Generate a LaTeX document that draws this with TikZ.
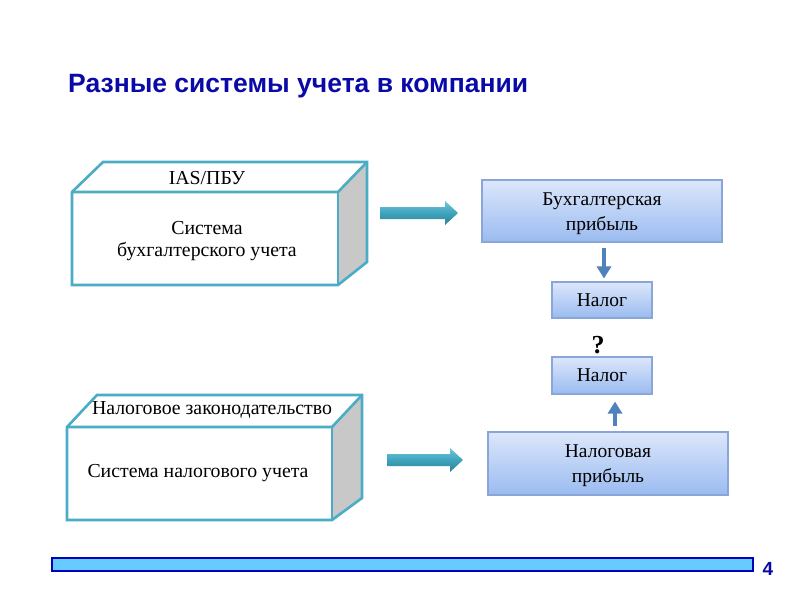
\documentclass[tikz,border=0pt]{standalone}
\usepackage{fontspec}
\setmainfont{Liberation Serif}
\newfontfamily\titlefont{Liberation Sans}
\usetikzlibrary{calc,arrows.meta}
\definecolor{cubeline}{HTML}{4BACC6}
\definecolor{cubeside}{HTML}{C8C8C8}
\definecolor{titleblue}{HTML}{0A0AA8}
\definecolor{boxline}{HTML}{8AA6D8}
\definecolor{boxtop}{HTML}{DCE7FB}
\definecolor{boxbot}{HTML}{9ABBF0}
\definecolor{tealtop}{HTML}{70C6DA}
\definecolor{tealmid}{HTML}{3FA3BC}
\definecolor{tealbot}{HTML}{2C8199}
\definecolor{steel}{HTML}{4F81BD}
\definecolor{barfill}{HTML}{66CCFF}
\definecolor{barline}{HTML}{0000C0}
\tikzset{
  cubeedge/.style={draw=cubeline, line width=2.6pt, line join=miter},
  cubetext/.style={font=\fontsize{19.8}{22.5}\selectfont, align=center, inner sep=0pt, text=black},
  profitbox/.style={rectangle, draw=boxline, line width=1.1pt, top color=boxtop, bottom color=boxbot,
    align=center, font=\fontsize{19.5}{25}\selectfont, inner sep=0pt, text=black},
  smallarrow/.style={draw=steel, line width=4.5pt, -{Triangle[width=14pt,length=12pt]}},
  tealarrow/.style={top color=tealtop, bottom color=tealbot, middle color=tealmid, draw=none}
}
\begin{document}
\begin{tikzpicture}[x=1pt,y=-1pt]
\useasboundingbox (0,0) rectangle (800,600);
\fill[white] (0,0) rectangle (800,600);

% title
\node[anchor=west, font=\titlefont\bfseries\fontsize{26.5}{30}\selectfont, text=titleblue, inner sep=0pt] (title) at (68,86) {Разные системы учета в компании};

% top cuboid
\fill[white] (72,192) -- (103,162) -- (367,162) -- (338,192) -- cycle;
\fill[cubeside] (338,192) -- (367,162) -- (367,262) -- (338,285) -- cycle;
\fill[white] (72,192) rectangle (338,285);
\draw[cubeedge] (72,192) -- (103,162) -- (367,162) -- (367,262) -- (338,285) -- (72,285) -- cycle;
\draw[cubeedge] (72,192) -- (338,192) -- (367,162);
\draw[cubeedge] (338,192) -- (338,285);
\node[cubetext] (ias) at (207,178) {IAS/ПБУ};
\node[cubetext] (sys1) at (207,241) {Система\\бухгалтерского учета};

% bottom cuboid
\fill[white] (67,427) -- (97,395) -- (362,395) -- (332,427) -- cycle;
\fill[cubeside] (332,427) -- (362,395) -- (362,498) -- (332,520) -- cycle;
\fill[white] (67,427) rectangle (332,520);
\draw[cubeedge] (67,427) -- (97,395) -- (362,395) -- (362,498) -- (332,520) -- (67,520) -- cycle;
\draw[cubeedge] (67,427) -- (332,427) -- (362,395);
\draw[cubeedge] (332,427) -- (332,520);
\node[cubetext] (law) at (212,410) {Налоговое законодательство};
\node[cubetext] (sys2) at (198,473) {Система налогового учета};

% right boxes
\node[profitbox, minimum width=240pt, minimum height=62pt] (buch) at (602,211) {};
\node[font=\fontsize{19.5}{25}\selectfont, align=center, inner sep=0pt] (buchtext) at (602,214) {Бухгалтерская\\прибыль};
\node[profitbox, minimum width=100pt, minimum height=36pt] (nal1) at (602,300) {Налог};
\node[profitbox, minimum width=100pt, minimum height=37pt] (nal2) at (602,375.5) {Налог};
\node[profitbox, minimum width=240pt, minimum height=63pt] (nalp) at (608,463.5) {};
\node[font=\fontsize{19.5}{25}\selectfont, align=center, inner sep=0pt] (nalptext) at (608,465.5) {Налоговая\\прибыль};
\node[font=\bfseries\fontsize{26}{28}\selectfont, inner sep=0pt] (q) at (598,345) {?};

% small arrows
\draw[smallarrow] ($(buch.south)+(2,5)$) -- ($(nal1.north)+(2,-3)$);
\draw[smallarrow] ($(nalp.north)+(7,-5)$) -- ($(nal2.south)+(13,7)$);

% teal block arrows
\coordinate (t1s) at (380,213);
\coordinate (t1e) at (458,213);
\coordinate (t2s) at (387,460);
\coordinate (t2e) at (463,460);
\foreach \s/\e in {t1s/t1e, t2s/t2e}{
  \path[tealarrow] ($(\s)+(0,-6)$) -- ($(\e)+(-13,-6)$) -- ($(\e)+(-13,-12)$) -- (\e)
     -- ($(\e)+(-13,12)$) -- ($(\e)+(-13,6)$) -- ($(\s)+(0,6)$) -- cycle;
}

% bottom bar
\draw[fill=barfill, draw=barline, line width=1.8pt] (52,558) rectangle (753,571);
\node[font=\titlefont\bfseries\fontsize{19}{21}\selectfont, text=titleblue, inner sep=0pt] (num) at (768,569) {4};
\end{tikzpicture}
\end{document}
